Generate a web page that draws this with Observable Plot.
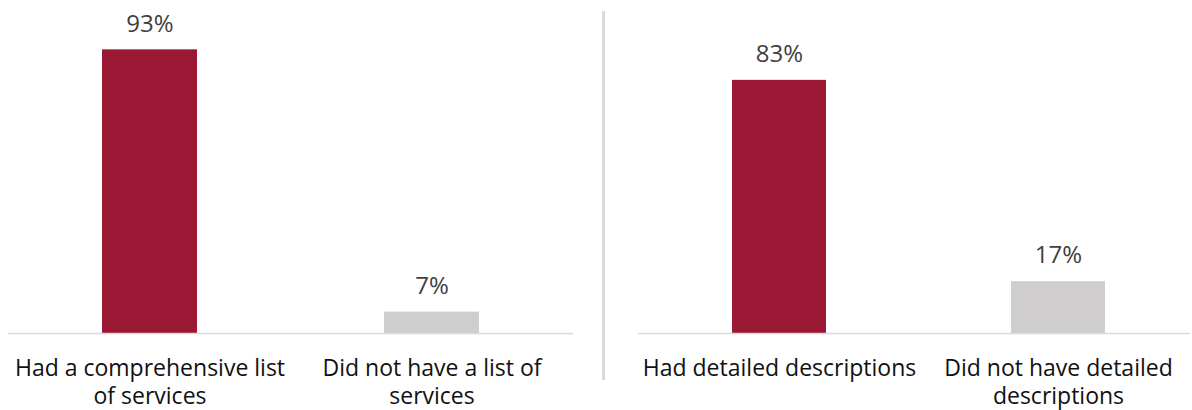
<!DOCTYPE html>
<html>
<head>
<meta charset="utf-8">
<script src="https://cdn.jsdelivr.net/npm/d3@7"></script>
<script src="https://cdn.jsdelivr.net/npm/@observablehq/plot@0.6"></script>
<style>
  html, body { margin: 0; padding: 0; background: #fff; }
  #wrap { position: relative; width: 1192px; height: 410px; display: flex; }
  #divider { position: absolute; left: 602px; top: 11px; width: 3px; height: 369px; background: #d9d9d9; }
  svg { display: block; }
</style>
</head>
<body>
<div id="wrap"><div id="divider"></div></div>
<script>
const leftCategories = ["Had a comprehensive list\nof services", "Did not have a list of\nservices"];
const leftValues = [93, 7];
const rightCategories = ["Had detailed descriptions", "Did not have detailed\ndescriptions"];
const rightValues = [83, 17];
const barColors = ["#9a1833", "#cfcdcd"];

const FONT = "Open Sans";

function panel(categories, values, opts) {
  const data = categories.map((c, i) => ({cat: c, value: values[i], color: barColors[i]}));
  return Plot.plot({
    width: opts.width,
    height: 410,
    marginLeft: opts.marginLeft,
    marginRight: opts.marginRight,
    marginTop: 28,
    marginBottom: 77,
    style: {fontFamily: FONT, fontSize: "23px", background: "#fff", overflow: "visible"},
    x: {domain: categories, paddingInner: opts.paddingInner, paddingOuter: opts.paddingOuter, align: opts.align, axis: null},
    y: {domain: [0, 100], axis: null},
    marks: [
      Plot.barY(data, {x: "cat", y: "value", fill: d => d.color}),
      Plot.ruleY([0], {stroke: "#d9d9d9", strokeWidth: 1.5}),
      Plot.text(data, {x: "cat", y: "value", text: d => d.value + "%", dy: -26, fill: "#404040", fontSize: 24}),
      Plot.text(data, {x: "cat", text: "cat", frameAnchor: "bottom", lineAnchor: "top", dy: 22, fontSize: 23, lineHeight: 1.24, fill: "#111"})
    ]
  });
}

const wrap = document.getElementById("wrap");
wrap.appendChild(panel(leftCategories, leftValues, {width: 600, marginLeft: 8, marginRight: 27, paddingInner: 0.663, paddingOuter: 0.333, align: 0.5}));
wrap.appendChild(panel(rightCategories, rightValues, {width: 592, marginLeft: 38, marginRight: 2, paddingInner: 0.664, paddingOuter: 0.318, align: 0.522}));
</script>
</body>
</html>
